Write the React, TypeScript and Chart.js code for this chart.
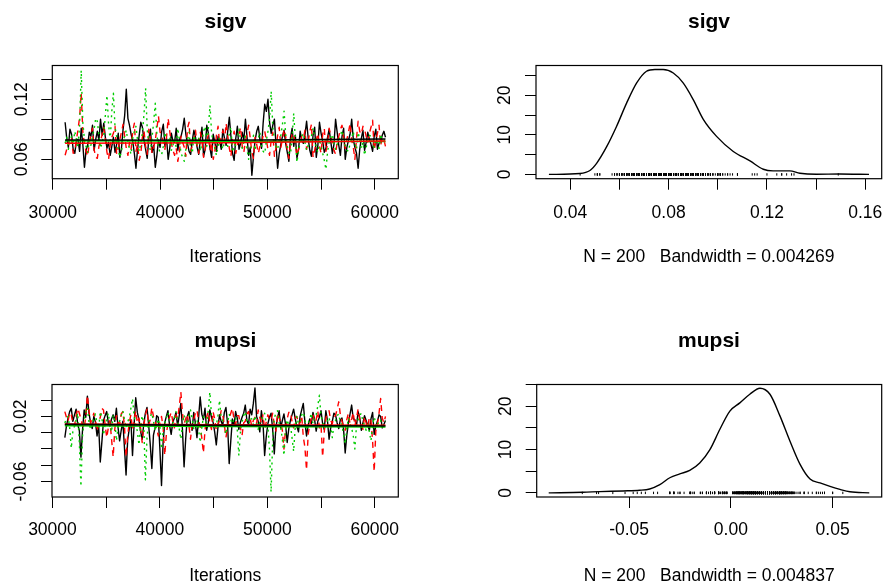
import React, { useEffect, useRef } from 'react';
import { Chart, registerables } from 'chart.js';

Chart.register(...registerables);

const FONT = '"Liberation Sans", Arial, Helvetica, sans-serif';

// ---- iterations (first and last kept sample) ----
const ITER_START = 31150;
const ITER_END = 61000;

// ---- sigv traces (3 chains, 200 kept samples each) ----
const SIGV_CHAIN1 = [
  0.097, 0.081, 0.072, 0.090, 0.085, 0.070, 0.066, 0.078, 0.080, 0.068,
  0.091, 0.075, 0.052, 0.069, 0.074, 0.087, 0.083, 0.094, 0.069, 0.080,
  0.088, 0.079, 0.100, 0.084, 0.096, 0.082, 0.071, 0.077, 0.064, 0.073,
  0.082, 0.067, 0.075, 0.086, 0.062, 0.071, 0.090, 0.104, 0.130, 0.101,
  0.094, 0.085, 0.078, 0.066, 0.051, 0.070, 0.084, 0.097, 0.092, 0.079,
  0.070, 0.061, 0.081, 0.090, 0.067, 0.074, 0.052, 0.064, 0.079, 0.072,
  0.088, 0.095, 0.073, 0.081, 0.060, 0.071, 0.086, 0.078, 0.077, 0.091,
  0.069, 0.080, 0.083, 0.090, 0.101, 0.085, 0.076, 0.068, 0.065, 0.079,
  0.089, 0.082, 0.072, 0.065, 0.080, 0.092, 0.063, 0.070, 0.094, 0.086,
  0.071, 0.062, 0.085, 0.077, 0.068, 0.083, 0.078, 0.070, 0.090, 0.081,
  0.074, 0.088, 0.102, 0.083, 0.066, 0.059, 0.081, 0.093, 0.070, 0.076,
  0.087, 0.079, 0.100, 0.082, 0.064, 0.072, 0.044, 0.063, 0.079, 0.088,
  0.093, 0.080, 0.071, 0.096, 0.115, 0.108, 0.120, 0.097, 0.086, 0.094,
  0.100, 0.074, 0.051, 0.066, 0.075, 0.083, 0.089, 0.076, 0.067, 0.058,
  0.082, 0.091, 0.073, 0.084, 0.061, 0.070, 0.088, 0.079, 0.076, 0.085,
  0.098, 0.081, 0.069, 0.063, 0.084, 0.092, 0.062, 0.074, 0.097, 0.086,
  0.078, 0.067, 0.071, 0.082, 0.090, 0.078, 0.066, 0.075, 0.100, 0.087,
  0.074, 0.064, 0.083, 0.091, 0.060, 0.072, 0.079, 0.085, 0.100, 0.080,
  0.072, 0.066, 0.051, 0.070, 0.081, 0.089, 0.069, 0.077, 0.087, 0.080,
  0.075, 0.068, 0.083, 0.090, 0.070, 0.076, 0.078, 0.084, 0.088, 0.082,
];
const SIGV_CHAIN2 = [
  0.064, 0.070, 0.072, 0.083, 0.081, 0.066, 0.069, 0.079, 0.090, 0.102,
  0.126, 0.088, 0.075, 0.068, 0.063, 0.076, 0.084, 0.091, 0.070, 0.062,
  0.061, 0.073, 0.078, 0.085, 0.092, 0.080, 0.067, 0.060, 0.074, 0.082,
  0.086, 0.093, 0.065, 0.071, 0.080, 0.087, 0.095, 0.083, 0.071, 0.064,
  0.077, 0.070, 0.088, 0.096, 0.068, 0.075, 0.059, 0.066, 0.082, 0.089,
  0.073, 0.065, 0.090, 0.081, 0.066, 0.072, 0.079, 0.091, 0.103, 0.087,
  0.085, 0.076, 0.070, 0.082, 0.101, 0.088, 0.076, 0.069, 0.064, 0.071,
  0.058, 0.067, 0.083, 0.077, 0.072, 0.063, 0.091, 0.097, 0.068, 0.074,
  0.080, 0.089, 0.074, 0.066, 0.087, 0.079, 0.062, 0.070, 0.078, 0.085,
  0.069, 0.077, 0.060, 0.068, 0.084, 0.093, 0.075, 0.082, 0.089, 0.078,
  0.096, 0.084, 0.071, 0.063, 0.080, 0.088, 0.066, 0.074, 0.085, 0.092,
  0.073, 0.067, 0.078, 0.086, 0.094, 0.081, 0.067, 0.061, 0.082, 0.075,
  0.066, 0.073, 0.075, 0.084, 0.088, 0.079, 0.070, 0.064, 0.079, 0.087,
  0.063, 0.071, 0.084, 0.092, 0.072, 0.080, 0.090, 0.083, 0.068, 0.061,
  0.077, 0.085, 0.086, 0.074, 0.064, 0.070, 0.074, 0.083, 0.081, 0.089,
  0.070, 0.078, 0.088, 0.095, 0.062, 0.069, 0.079, 0.086, 0.073, 0.066,
  0.085, 0.091, 0.068, 0.075, 0.091, 0.084, 0.076, 0.069, 0.065, 0.077,
  0.083, 0.090, 0.094, 0.082, 0.071, 0.080, 0.087, 0.096, 0.079, 0.072,
  0.060, 0.081, 0.098, 0.088, 0.085, 0.093, 0.090, 0.083, 0.077, 0.086,
  0.092, 0.099, 0.069, 0.078, 0.086, 0.094, 0.074, 0.081, 0.080, 0.073,
];
const SIGV_CHAIN3 = [
  0.076, 0.082, 0.070, 0.078, 0.083, 0.075, 0.088, 0.080, 0.072, 0.094,
  0.149, 0.097, 0.080, 0.073, 0.067, 0.079, 0.074, 0.083, 0.090, 0.101,
  0.098, 0.084, 0.071, 0.077, 0.085, 0.104, 0.124, 0.095, 0.079, 0.108,
  0.126, 0.092, 0.083, 0.070, 0.062, 0.068, 0.077, 0.084, 0.089, 0.078,
  0.070, 0.065, 0.081, 0.088, 0.093, 0.079, 0.068, 0.076, 0.086, 0.105,
  0.131, 0.090, 0.074, 0.069, 0.082, 0.097, 0.116, 0.085, 0.072, 0.066,
  0.065, 0.073, 0.087, 0.080, 0.076, 0.083, 0.069, 0.074, 0.080, 0.072,
  0.091, 0.079, 0.066, 0.062, 0.058, 0.070, 0.079, 0.087, 0.071, 0.066,
  0.084, 0.078, 0.075, 0.081, 0.068, 0.077, 0.088, 0.093, 0.073, 0.092,
  0.114, 0.086, 0.077, 0.071, 0.064, 0.073, 0.082, 0.076, 0.070, 0.078,
  0.079, 0.073, 0.086, 0.092, 0.067, 0.075, 0.074, 0.081, 0.090, 0.079,
  0.071, 0.077, 0.083, 0.070, 0.060, 0.068, 0.076, 0.084, 0.069, 0.078,
  0.081, 0.087, 0.074, 0.068, 0.066, 0.079, 0.088, 0.101, 0.128, 0.093,
  0.079, 0.072, 0.070, 0.080, 0.084, 0.095, 0.108, 0.085, 0.073, 0.067,
  0.065, 0.082, 0.106, 0.080, 0.057, 0.068, 0.078, 0.083, 0.086, 0.077,
  0.069, 0.074, 0.075, 0.083, 0.091, 0.082, 0.072, 0.067, 0.080, 0.073,
  0.066, 0.059, 0.050, 0.067, 0.077, 0.082, 0.085, 0.076, 0.070, 0.075,
  0.078, 0.084, 0.089, 0.081, 0.074, 0.069, 0.068, 0.076, 0.081, 0.088,
  0.076, 0.070, 0.087, 0.080, 0.071, 0.077, 0.064, 0.072, 0.079, 0.084,
  0.083, 0.075, 0.072, 0.080, 0.077, 0.071, 0.085, 0.079, 0.078, 0.083,
];
// lowess smooth lines (start, middle, end)
const SMOOTH_X = [31150, 46075, 61000];
const SIGV_SMOOTH1 = [0.0793, 0.079, 0.0803];
const SIGV_SMOOTH2 = [0.076, 0.0765, 0.0783];
const SIGV_SMOOTH3 = [0.0785, 0.078, 0.0778];

// ---- mupsi traces (3 chains, 200 kept samples each) ----
const MUPSI_CHAIN1 = [
  -0.006, 0.008, 0.018, 0.026, 0.030, 0.014, 0.022, 0.029, 0.010, 0.003,
  -0.030, 0.004, 0.028, 0.019, 0.045, 0.024, 0.012, 0.005, 0.020, 0.013,
  -0.004, 0.009, -0.036, -0.011, 0.015, 0.021, 0.026, 0.012, 0.008, 0.017,
  0.022, 0.014, 0.030, 0.007, -0.010, 0.003, 0.014, -0.018, -0.052, -0.009,
  0.005, 0.016, -0.028, 0.010, 0.043, 0.025, 0.016, 0.002, -0.008, 0.011,
  0.024, 0.031, 0.010, -0.014, -0.044, -0.003, 0.006, 0.021, 0.019, -0.020,
  -0.065, -0.012, 0.012, 0.020, 0.027, 0.009, -0.002, 0.013, 0.018, 0.025,
  0.008, 0.021, 0.036, 0.004, -0.042, -0.008, 0.020, 0.026, 0.011, 0.003,
  0.025, 0.012, -0.006, 0.018, 0.044, 0.023, 0.016, 0.030, 0.003, 0.012,
  0.028, 0.019, 0.013, 0.001, -0.015, 0.006, 0.022, 0.014, 0.009, 0.025,
  0.031, 0.011, -0.038, -0.010, 0.017, 0.008, 0.026, 0.018, 0.004, 0.013,
  0.019, 0.024, 0.034, 0.015, 0.010, 0.029, 0.022, 0.036, 0.055, 0.020,
  0.014, 0.001, 0.027, 0.012, -0.028, -0.005, 0.011, 0.019, 0.024, 0.004,
  -0.026, 0.007, 0.018, 0.027, 0.006, 0.015, 0.023, 0.010, -0.012, 0.005,
  0.015, 0.022, 0.029, 0.017, 0.008, 0.001, 0.020, 0.028, 0.036, 0.013,
  -0.004, 0.009, 0.017, 0.011, 0.025, 0.016, 0.002, 0.014, 0.019, 0.027,
  0.011, 0.004, 0.027, 0.015, -0.008, 0.006, 0.014, 0.024, 0.022, 0.012,
  0.005, 0.016, 0.018, 0.004, -0.025, -0.003, 0.012, 0.023, 0.034, 0.017,
  0.016, 0.008, 0.026, 0.019, 0.003, 0.012, 0.021, 0.015, 0.009, 0.003,
  0.017, 0.025, -0.002, 0.008, 0.014, 0.022, 0.020, 0.006, 0.010, 0.015,
];
const MUPSI_CHAIN2 = [
  0.026, 0.019, 0.014, 0.025, 0.022, 0.012, 0.008, 0.021, 0.030, 0.024,
  0.017, 0.009, 0.005, 0.020, 0.046, 0.027, 0.012, 0.018, 0.024, 0.015,
  0.002, 0.011, 0.019, 0.030, 0.028, 0.010, -0.006, 0.006, 0.015, -0.008,
  -0.030, 0.004, 0.021, 0.013, 0.010, 0.023, 0.026, 0.009, -0.030, -0.004,
  0.013, 0.022, 0.004, 0.015, 0.027, 0.012, 0.018, 0.006, -0.012, 0.008,
  0.022, 0.029, 0.009, 0.016, 0.031, 0.020, 0.016, 0.005, -0.004, 0.012,
  0.020, 0.007, -0.028, -0.002, 0.012, 0.019, 0.025, 0.014, 0.006, 0.022,
  0.018, 0.032, 0.050, 0.024, 0.011, 0.017, 0.023, 0.009, -0.008, 0.010,
  0.016, 0.024, 0.028, 0.015, 0.007, -0.006, -0.025, 0.003, 0.019, 0.026,
  0.012, 0.004, 0.026, 0.017, 0.003, 0.011, 0.015, 0.027, 0.022, 0.010,
  -0.006, 0.007, 0.018, 0.024, 0.030, 0.016, 0.010, 0.021, 0.021, 0.006,
  -0.003, 0.012, 0.014, 0.023, 0.026, 0.018, 0.008, 0.015, 0.019, 0.011,
  0.028, 0.019, 0.011, 0.022, 0.004, 0.013, 0.022, 0.016, 0.015, 0.024,
  0.009, 0.002, 0.024, 0.018, 0.013, 0.003, -0.020, 0.005, 0.017, 0.025,
  0.026, 0.014, 0.006, 0.019, 0.020, 0.011, 0.012, 0.021, -0.005, -0.018,
  -0.046, -0.002, 0.010, 0.017, 0.023, 0.012, 0.016, 0.027, 0.005, 0.009,
  -0.030, 0.001, 0.018, 0.024, 0.027, 0.015, 0.011, 0.020, 0.021, 0.029,
  0.038, 0.022, 0.014, 0.008, 0.003, 0.016, 0.024, 0.011, 0.017, 0.025,
  0.008, 0.018, 0.029, 0.016, 0.013, 0.004, 0.020, 0.012, 0.006, 0.019,
  0.015, -0.010, -0.048, 0.002, 0.010, 0.024, 0.042, 0.018, 0.012, 0.020,
];
const MUPSI_CHAIN3 = [
  0.012, 0.017, 0.020, 0.006, -0.019, 0.002, 0.008, 0.016, 0.024, -0.012,
  -0.066, -0.004, 0.015, 0.025, 0.031, 0.013, 0.004, 0.011, 0.018, 0.023,
  0.011, 0.005, 0.026, 0.019, -0.003, 0.010, 0.016, 0.024, 0.009, 0.001,
  0.022, 0.014, -0.010, 0.006, 0.014, 0.021, 0.027, 0.016, 0.006, 0.013,
  0.019, 0.030, 0.042, 0.021, 0.010, 0.002, -0.015, 0.007, 0.021, 0.009,
  -0.058, -0.006, 0.013, 0.019, 0.024, 0.015, 0.002, 0.010, 0.017, 0.008,
  -0.020, 0.003, 0.011, 0.018, 0.025, 0.016, 0.007, 0.012, 0.019, 0.026,
  0.014, 0.005, -0.008, 0.009, 0.022, 0.015, 0.010, 0.020, 0.028, 0.017,
  0.005, 0.013, 0.016, 0.004, -0.012, 0.006, 0.020, 0.014, 0.012, 0.027,
  0.050, 0.022, 0.018, 0.011, 0.008, 0.021, 0.040, 0.019, 0.015, 0.006,
  -0.002, 0.012, 0.023, 0.016, 0.011, 0.017, 0.019, 0.004, -0.028, 0.001,
  0.013, 0.021, 0.026, 0.015, 0.007, 0.018, 0.017, 0.010, 0.021, 0.012,
  0.004, 0.013, 0.014, 0.022, 0.024, 0.011, 0.009, -0.020, -0.073, -0.010,
  0.018, 0.024, 0.027, 0.012, 0.006, -0.008, -0.028, 0.004, 0.016, 0.009,
  0.010, -0.006, -0.023, 0.007, 0.020, 0.011, 0.013, 0.022, 0.025, 0.016,
  0.003, 0.012, 0.017, 0.024, 0.011, 0.019, 0.022, 0.033, 0.046, 0.020,
  0.014, 0.006, 0.008, 0.015, 0.019, 0.007, -0.006, 0.010, 0.015, 0.021,
  0.023, 0.012, 0.010, -0.003, -0.014, 0.005, 0.018, 0.011, 0.006, -0.004,
  -0.020, 0.008, 0.016, 0.021, 0.024, 0.014, 0.009, 0.003, 0.013, 0.001,
  -0.010, 0.009, 0.019, 0.012, 0.007, 0.016, 0.015, 0.008, 0.011, 0.014,
];
const MUPSI_SMOOTH1 = [0.0103, 0.009, 0.0082];
const MUPSI_SMOOTH2 = [0.0105, 0.0098, 0.0091];
const MUPSI_SMOOTH3 = [0.0085, 0.0078, 0.007];

// ---- kernel density estimates ----
const SIGV_DENS_X = [
  0.0313, 0.0439, 0.048, 0.0507, 0.0548, 0.0588, 0.0629, 0.067, 0.071, 0.0744,
  0.0778, 0.0819, 0.0859, 0.09, 0.0941, 0.0995, 0.1063, 0.1131, 0.1185, 0.1225,
  0.1293, 0.1334, 0.1401, 0.1496, 0.1615,
];
const SIGV_DENS_Y = [
  0, 0.25, 1.0, 2.8, 7.0, 12.1, 18.0, 23.1, 26.05, 26.5,
  26.5, 25.6, 23.1, 18.9, 13.9, 9.6, 5.8, 3.4, 1.3, 0.9,
  0.9, 0.3, 0.05, 0.1, 0,
];
const MUPSI_DENS_X = [
  -0.0895, -0.0727, -0.0644, -0.053, -0.0448, -0.0399, -0.0349, -0.03, -0.0251, -0.0202,
  -0.0153, -0.0103, -0.0054, -0.0005, 0.0044, 0.0093, 0.0143, 0.0192, 0.0241, 0.029,
  0.034, 0.0389, 0.0438, 0.0487, 0.0536, 0.0585, 0.068,
];
const MUPSI_DENS_Y = [
  0, 0.15, 0.3, 0.45, 0.6, 0.9, 1.9, 3.5, 4.4, 5.2,
  6.9, 10, 14.7, 18.9, 20.8, 22.8, 24.2, 22.8, 17.8, 12,
  6.6, 3.2, 2.3, 1.5, 0.8, 0.25, 0,
];

// ---- ticks and tick labels ----
const TRACE_X_TICKS = [30000, 35000, 40000, 45000, 50000, 55000, 60000];
const TRACE_X_LABELS = ['30000', '', '40000', '', '50000', '', '60000'];
const SIGV_Y_TICKS = [0.06, 0.08, 0.1, 0.12, 0.14];
const SIGV_Y_LABELS = ['0.06', '', '', '0.12', ''];
const MUPSI_Y_TICKS = [-0.06, -0.04, -0.02, 0, 0.02, 0.04];
const MUPSI_Y_LABELS = ['-0.06', '', '', '', '0.02', ''];
const SIGV_DENS_X_TICKS = [0.04, 0.06, 0.08, 0.1, 0.12, 0.14, 0.16];
const SIGV_DENS_X_LABELS = ['0.04', '', '0.08', '', '0.12', '', '0.16'];
const MUPSI_DENS_X_TICKS = [-0.05, 0, 0.05];
const MUPSI_DENS_X_LABELS = ['-0.05', '0.00', '0.05'];
const DENS_Y_TICKS = [0, 5, 10, 15, 20, 25];
const DENS_Y_LABELS = ['0', '', '10', '', '20', ''];

const N_ITER = 200;
const BW_SIGV = '0.004269';
const BW_MUPSI = '0.004837';

const iterAt = (i: number, n: number) => ITER_START + (i * (ITER_END - ITER_START)) / (n - 1);

const traceDatasets = (c1: number[], c2: number[], c3: number[], s1: number[], s2: number[], s3: number[]) => {
  const mk = (arr: number[], color: string, dash: number[], order: number) => ({
    data: arr.map((y, i) => ({ x: iterAt(i, arr.length), y })),
    borderColor: color,
    borderWidth: 1.4,
    borderDash: dash,
    borderJoinStyle: 'round',
    pointRadius: 0,
    order,
    yAxisID: 'y',
  });
  const sm = (arr: number[], color: string) => ({
    data: arr.map((y, i) => ({ x: SMOOTH_X[i], y })),
    borderColor: color,
    borderWidth: 1.6,
    pointRadius: 0,
    order: 0,
    yAxisID: 'y',
  });
  return [
    mk(c1, '#000000', [], 3),
    mk(c2, '#ff0000', [6, 5], 2),
    mk(c3, '#00cd00', [2, 4], 1),
    sm(s1, '#000000'),
    sm(s2, '#ff0000'),
    sm(s3, '#00cd00'),
  ];
};

const densityDatasets = (dx: number[], dy: number[], obs: number[]) => [
  {
    data: dx.map((x, i) => ({ x, y: dy[i] })),
    borderColor: '#000000',
    borderWidth: 1.4,
    pointRadius: 0,
    cubicInterpolationMode: 'monotone',
    order: 1,
    yAxisID: 'y',
  },
  {
    data: obs.map((x) => ({ x, y: 0 })),
    showLine: false,
    pointStyle: 'line',
    pointRotation: 90,
    pointRadius: 1.2,
    pointBorderWidth: 1,
    pointBorderColor: '#000000',
    borderColor: '#000000',
    order: 0,
    yAxisID: 'y',
  },
];

const boxPlugin = {
  id: 'plotBox',
  afterDraw(chart: any) {
    const { ctx, chartArea: a } = chart;
    ctx.save();
    ctx.strokeStyle = '#000';
    ctx.lineWidth = 1.2;
    ctx.strokeRect(a.left, a.top, a.right - a.left, a.bottom - a.top);
    ctx.restore();
  },
};

type Spec = {
  left: number; top: number; width: number; height: number;
  title: string; titlePadTop: number; titlePadBottom: number;
  yAxisWidth: number; rightWidth: number; xAxisHeight: number;
  xTickPad: number; yTickPad: number; xTitle: string; xTitlePadBottom: number;
  xMin: number; xMax: number; yMin: number; yMax: number;
  xTicks: number[]; xLabels: string[]; yTicks: number[]; yLabels: string[];
  datasets: any[];
};

function Panel({ spec }: { spec: Spec }) {
  const ref = useRef<HTMLCanvasElement>(null);
  useEffect(() => {
    if (!ref.current) return;
    const tickFont = { family: FONT, size: 17.5 };
    const gridOpts = { drawOnChartArea: false, drawTicks: true, tickLength: 11, color: '#000', tickColor: '#000', lineWidth: 1 };
    const chart = new Chart(ref.current, {
      type: 'line',
      data: { datasets: spec.datasets },
      options: {
        responsive: false,
        animation: false,
        devicePixelRatio: 1,
        layout: { padding: 0, autoPadding: false },
        plugins: {
          legend: { display: false },
          tooltip: { enabled: false },
          title: {
            display: true,
            text: spec.title,
            color: '#000',
            font: { family: FONT, size: 21, weight: 'bold' },
            padding: { top: spec.titlePadTop, bottom: spec.titlePadBottom },
          },
        },
        scales: {
          x: {
            type: 'linear',
            position: 'bottom',
            min: spec.xMin,
            max: spec.xMax,
            afterBuildTicks: (s: any) => { s.ticks = spec.xTicks.map((v) => ({ value: v })); },
            afterFit: (s: any) => { s.height = spec.xAxisHeight; },
            ticks: {
              autoSkip: false, minRotation: 0, maxRotation: 0, padding: spec.xTickPad,
              color: '#000', font: tickFont,
              callback: (_v: any, i: number) => spec.xLabels[i],
            },
            grid: gridOpts,
            border: { display: false },
            title: {
              display: true, text: spec.xTitle, color: '#000', font: tickFont,
              padding: { top: 0, bottom: spec.xTitlePadBottom },
            },
          },
          y: {
            type: 'linear',
            position: 'left',
            min: spec.yMin,
            max: spec.yMax,
            afterBuildTicks: (s: any) => { s.ticks = spec.yTicks.map((v) => ({ value: v })); },
            afterFit: (s: any) => { s.width = spec.yAxisWidth; },
            ticks: {
              autoSkip: false, minRotation: 90, maxRotation: 90, crossAlign: 'center',
              padding: spec.yTickPad, color: '#000', font: tickFont,
              callback: (_v: any, i: number) => spec.yLabels[i],
            },
            grid: gridOpts,
            border: { display: false },
          },
          yr: {
            type: 'linear',
            position: 'right',
            display: true,
            ticks: { display: false },
            grid: { display: false },
            border: { display: false },
            afterFit: (s: any) => { s.width = spec.rightWidth; },
          },
        },
      } as any,
      plugins: [boxPlugin],
    });
    return () => chart.destroy();
  }, [spec]);
  return (
    <canvas
      ref={ref}
      width={spec.width}
      height={spec.height}
      style={{ position: 'absolute', left: spec.left, top: spec.top, width: spec.width, height: spec.height }}
    />
  );
}

const SIGV_ALL = [...SIGV_CHAIN1, ...SIGV_CHAIN2, ...SIGV_CHAIN3];
const MUPSI_ALL = [...MUPSI_CHAIN1, ...MUPSI_CHAIN2, ...MUPSI_CHAIN3];

const SPECS: Spec[] = [
  {
    left: 0, top: 0, width: 451, height: 293,
    title: 'sigv', titlePadTop: 9.8, titlePadBottom: 30.5,
    yAxisWidth: 52.3, rightWidth: 52.7, xAxisHeight: 114.3,
    xTickPad: 13, yTickPad: 2.5, xTitle: 'Iterations', xTitlePadBottom: 25,
    xMin: 29956, xMax: 62194, yMin: 0.0406, yMax: 0.1538,
    xTicks: TRACE_X_TICKS, xLabels: TRACE_X_LABELS, yTicks: SIGV_Y_TICKS, yLabels: SIGV_Y_LABELS,
    datasets: traceDatasets(SIGV_CHAIN1, SIGV_CHAIN2, SIGV_CHAIN3, SIGV_SMOOTH1, SIGV_SMOOTH2, SIGV_SMOOTH3),
  },
  {
    left: 486, top: 0, width: 446, height: 293,
    title: 'sigv', titlePadTop: 9.8, titlePadBottom: 30.5,
    yAxisWidth: 50, rightWidth: 50.3, xAxisHeight: 114.3,
    xTickPad: 13, yTickPad: 9.8, xTitle: `N = ${N_ITER}   Bandwidth = ${BW_SIGV}`, xTitlePadBottom: 25,
    xMin: 0.02605, xMax: 0.16667, yMin: -1.08, yMax: 27.5,
    xTicks: SIGV_DENS_X_TICKS, xLabels: SIGV_DENS_X_LABELS, yTicks: DENS_Y_TICKS, yLabels: DENS_Y_LABELS,
    datasets: densityDatasets(SIGV_DENS_X, SIGV_DENS_Y, SIGV_ALL),
  },
  {
    left: 0, top: 293, width: 451, height: 294,
    title: 'mupsi', titlePadTop: 35.5, titlePadBottom: 30.8,
    yAxisWidth: 52, rightWidth: 52.7, xAxisHeight: 90,
    xTickPad: 12, yTickPad: -0.4, xTitle: 'Iterations', xTitlePadBottom: 0,
    xMin: 29956, xMax: 62194, yMin: -0.0791, yMax: 0.0593,
    xTicks: TRACE_X_TICKS, xLabels: TRACE_X_LABELS, yTicks: MUPSI_Y_TICKS, yLabels: MUPSI_Y_LABELS,
    datasets: traceDatasets(MUPSI_CHAIN1, MUPSI_CHAIN2, MUPSI_CHAIN3, MUPSI_SMOOTH1, MUPSI_SMOOTH2, MUPSI_SMOOTH3),
  },
  {
    left: 486, top: 293, width: 446, height: 294,
    title: 'mupsi', titlePadTop: 35.5, titlePadBottom: 30.8,
    yAxisWidth: 50.7, rightWidth: 50.3, xAxisHeight: 90,
    xTickPad: 12, yTickPad: 9.8, xTitle: `N = ${N_ITER}   Bandwidth = ${BW_MUPSI}`, xTitlePadBottom: 0,
    xMin: -0.0954, xMax: 0.0741, yMin: -0.95, yMax: 25.05,
    xTicks: MUPSI_DENS_X_TICKS, xLabels: MUPSI_DENS_X_LABELS, yTicks: DENS_Y_TICKS, yLabels: DENS_Y_LABELS,
    datasets: densityDatasets(MUPSI_DENS_X, MUPSI_DENS_Y, MUPSI_ALL),
  },
];

export default function App() {
  return (
    <div style={{ position: 'fixed', left: 0, top: 0, width: 885, height: 587, overflow: 'hidden', background: '#ffffff' }}>
      {SPECS.map((s, i) => (
        <Panel key={i} spec={s} />
      ))}
    </div>
  );
}
